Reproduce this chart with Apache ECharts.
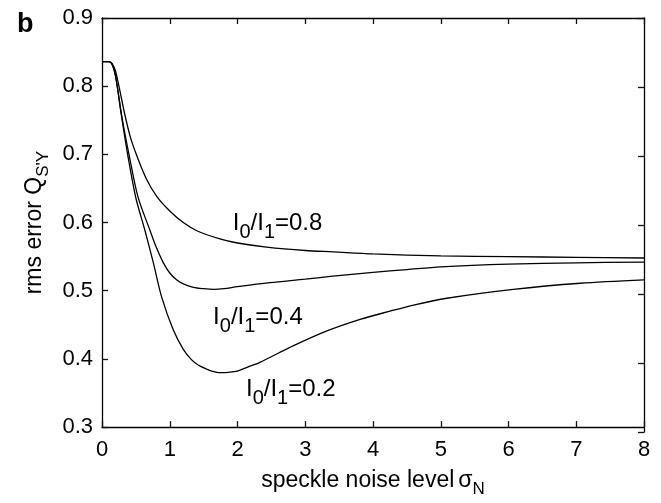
<!DOCTYPE html>
<html>
<head>
<meta charset="utf-8">
<script src="https://cdn.jsdelivr.net/npm/echarts@6/dist/echarts.min.js"></script>
<style>
html,body{margin:0;padding:0;background:#fff;}
#chart{width:661px;height:503px;}
</style>
</head>
<body>
<div id="chart"></div>
<script>
// x: speckle noise level sigma_N ; y: rms error
const curve08 = [[0,0.836],[0.1,0.836],[0.15,0.833],[0.2,0.822],[0.25,0.800],[0.34,0.757],[0.42,0.725],[0.51,0.699],[0.65,0.665],[0.81,0.638],[1.0,0.617],[1.2,0.600],[1.4,0.588],[1.74,0.576],[2.0,0.570],[2.43,0.564],[3.0,0.559],[3.41,0.557],[4.0,0.554],[5.0,0.551],[6.0,0.550],[7.0,0.549],[8.0,0.548]];
const curve04 = [[0,0.836],[0.1,0.836],[0.15,0.832],[0.2,0.815],[0.29,0.757],[0.40,0.699],[0.53,0.638],[0.71,0.588],[0.8,0.564],[0.9,0.542],[1.0,0.526],[1.1,0.516],[1.2,0.510],[1.35,0.505],[1.5,0.503],[1.65,0.502],[1.8,0.503],[2.0,0.506],[2.48,0.512],[3.0,0.517],[3.37,0.521],[4.0,0.527],[4.5,0.531],[5.0,0.535],[6.0,0.539],[7.0,0.541],[8.0,0.542]];
const curve02 = [[0,0.836],[0.1,0.836],[0.15,0.832],[0.2,0.815],[0.29,0.755],[0.38,0.699],[0.50,0.636],[0.635,0.588],[0.76,0.540],[0.88,0.491],[1.05,0.443],[1.2,0.414],[1.32,0.399],[1.42,0.391],[1.52,0.386],[1.62,0.382],[1.72,0.380],[1.82,0.380],[1.92,0.381],[2.02,0.383],[2.15,0.388],[2.33,0.395],[2.82,0.419],[3.32,0.441],[3.81,0.458],[4.25,0.470],[4.6,0.479],[5.09,0.489],[6.07,0.502],[7.06,0.511],[8.0,0.516]];
const ratioLabels = ['0.8','0.4','0.2'];
const labelAnchors = [[1.93,0.598],[1.64,0.460],[2.125,0.354]];
const xTicks = [0,1,2,3,4,5,6,7,8];
const yTicks = [0.3,0.4,0.5,0.6,0.7,0.8,0.9];

const FONT = '"Liberation Sans", Arial, Helvetica, sans-serif';
const subRich = {
  m: {fontSize: 24, lineHeight: 26, verticalAlign: 'top', fontFamily: FONT, color: '#000'},
  s: {fontSize: 20, lineHeight: 20, padding: [17,0,0,0], fontFamily: FONT, color: '#000'}
};
const axisTitleRich = {
  m: {fontSize: 23, lineHeight: 25, verticalAlign: 'top', fontFamily: FONT, color: '#000'},
  g: {fontSize: 23, lineHeight: 25, verticalAlign: 'top', fontFamily: FONT, color: '#000', padding: [0,0,0,4]},
  s: {fontSize: 17, lineHeight: 17, padding: [15,0,0,0], fontFamily: FONT, color: '#000'}
};

function lineSeries(data){
  return {type: 'line', data: data, smooth: 0.3, showSymbol: false, symbol: 'none',
    lineStyle: {color: '#000', width: 1.3}, silent: true, animation: false, z: 3};
}
function axisLineStyle(){ return {show: true, lineStyle: {color: '#000', width: 1.3}}; }
function tickStyle(){ return {show: true, inside: true, length: 6, lineStyle: {color: '#111', width: 1.3}}; }

const chart = echarts.init(document.getElementById('chart'));
const gridBox = {left: 102, right: 17, top: 18, bottom: 71};

chart.setOption({
  animation: false,
  backgroundColor: '#fff',
  title: {text: 'b', left: 12, top: 6, textStyle: {fontSize: 27, fontWeight: 'bold', fontFamily: FONT, color: '#000'}},
  grid: [Object.assign({}, gridBox), Object.assign({}, gridBox)],
  xAxis: [{
    gridIndex: 0, type: 'value', min: 0, max: 8, interval: 1, position: 'bottom',
    axisLine: axisLineStyle(), axisTick: tickStyle(), splitLine: {show: false},
    axisLabel: {fontSize: 22, fontFamily: FONT, color: '#000', margin: 12,
      formatter: v => xTicks.includes(v) ? String(v) : ''},
    name: '{m|speckle noise level}{g|σ}{s|N}', nameLocation: 'middle', nameGap: 29,
    nameTextStyle: {rich: axisTitleRich}
  },{
    gridIndex: 0, type: 'value', min: 0, max: 8, interval: 1, position: 'top',
    axisLine: axisLineStyle(), axisTick: tickStyle(), splitLine: {show: false}, axisLabel: {show: false}
  },{
    gridIndex: 1, type: 'value', min: 1, max: 9, interval: 1, show: false
  }],
  yAxis: [{
    gridIndex: 0, type: 'value', min: 0.3, max: 0.9, interval: 0.1, position: 'left',
    axisLine: axisLineStyle(), axisTick: tickStyle(), splitLine: {show: false},
    axisLabel: {fontSize: 22, fontFamily: FONT, color: '#000', margin: 9,
      formatter: v => v.toFixed(1)},
    name: '{m|rms error Q}{s|S\'Y}', nameLocation: 'middle', nameGap: 41, nameRotate: 90,
    nameTextStyle: {rich: axisTitleRich}
  },{
    gridIndex: 1, type: 'value', min: 0.3, max: 0.9, interval: 0.1, position: 'right',
    axisLine: axisLineStyle(), axisTick: tickStyle(), splitLine: {show: false}, axisLabel: {show: false}
  }],
  series: [
    lineSeries(curve08), lineSeries(curve04), lineSeries(curve02),
    {
      type: 'scatter', symbolSize: 0, silent: true, z: 5,
      itemStyle: {color: '#000', opacity: 1},
      data: labelAnchors.map((p, i) => ({value: p, name: ratioLabels[i]})),
      label: {show: true, position: 'right', distance: 0, color: '#000', opacity: 1,
        formatter: p => '{m|I}{s|0}{m|/I}{s|1}{m|=' + p.name + '}', rich: subRich}
    }
  ]
});
</script>
</body>
</html>
